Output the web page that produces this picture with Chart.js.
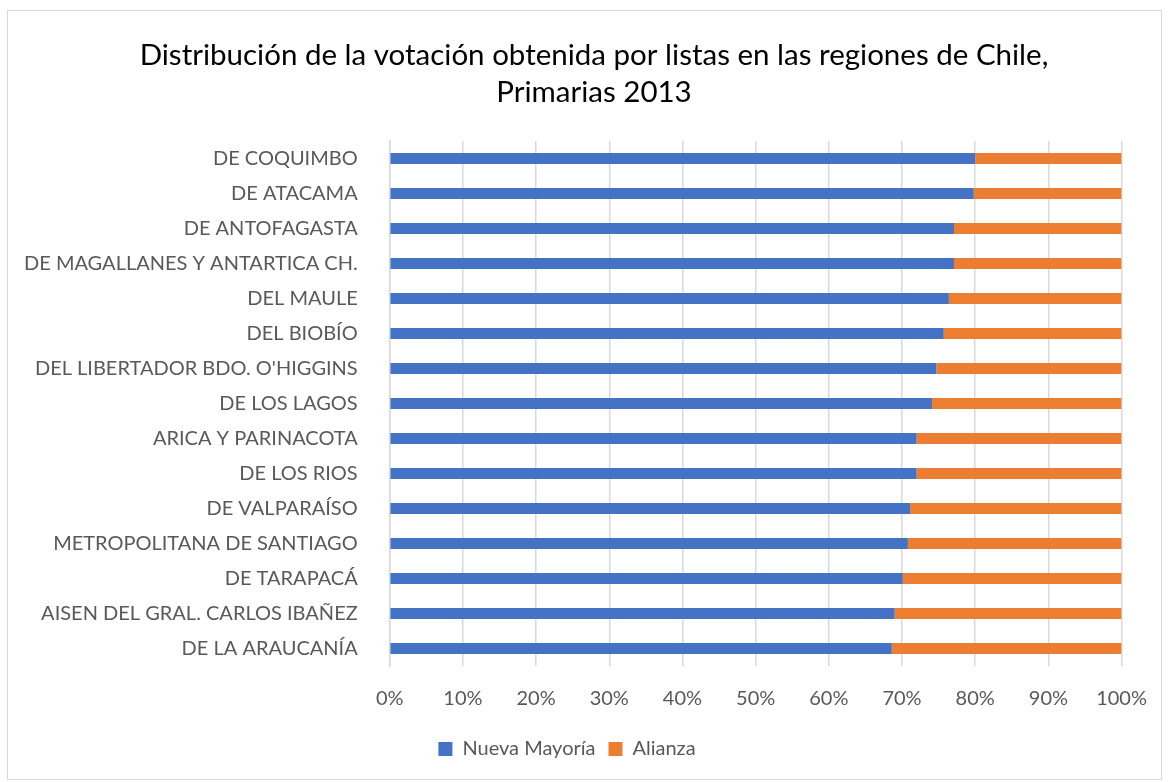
<!DOCTYPE html>
<html>
<head>
<meta charset="utf-8">
<script src="https://cdn.jsdelivr.net/npm/chart.js@4"></script>
<style>
  body { margin: 0; background: #fff; }
  #box { position: absolute; left: 7px; top: 10px; width: 1155px; height: 770px; border: 1px solid #d9d9d9; box-sizing: border-box; }
  #chart { position: absolute; left: 0; top: 0; }
</style>
</head>
<body>
<div id="box"></div>
<canvas id="chart" width="1168" height="782"></canvas>
<script>
// Regions, top to bottom
const regiones = ['DE COQUIMBO', 'DE ATACAMA', 'DE ANTOFAGASTA', 'DE MAGALLANES Y ANTARTICA CH.', 'DEL MAULE',
  'DEL BIOBÍO', "DEL LIBERTADOR BDO. O'HIGGINS", 'DE LOS LAGOS', 'ARICA Y PARINACOTA', 'DE LOS RIOS',
  'DE VALPARAÍSO', 'METROPOLITANA DE SANTIAGO', 'DE TARAPACÁ', 'AISEN DEL GRAL. CARLOS IBAÑEZ', 'DE LA ARAUCANÍA']
// Share of votes, percent
const nuevaMayoria = [80.0, 79.8, 77.1, 77.1, 76.4, 75.7, 74.7, 74.1, 72.0, 72.0, 71.1, 70.8, 70.1, 69.0, 68.6]
const alianza = [20.0, 20.2, 22.9, 22.9, 23.6, 24.3, 25.3, 25.9, 28.0, 28.0, 28.9, 29.2, 29.9, 31.0, 31.4]
const titulo = ['Distribución de la votación obtenida por listas en las regiones de Chile,', 'Primarias 2013']

const fontFamily = 'Lato, "Open Sans", sans-serif'
const grey = '#595959'

// title is centred on the page, not on the plot, so draw it here
const pageTitle = {
  id: 'pageTitle',
  afterDraw(chart) {
    const ctx = chart.ctx
    ctx.save()
    ctx.fillStyle = '#000'
    ctx.font = '29.5px ' + fontFamily
    ctx.textAlign = 'center'
    ctx.textBaseline = 'middle'
    titulo.forEach((line, i) => ctx.fillText(line, 594, 55 + i * 37))
    ctx.restore()
  }
}

const chart = new Chart(document.querySelector('#chart'), {
  type: 'bar',
  data: {
    labels: regiones,
    datasets: [
      { label: 'Nueva Mayoría', data: nuevaMayoria, backgroundColor: '#4472c4', barPercentage: 0.32, categoryPercentage: 1 },
      { label: 'Alianza', data: alianza, backgroundColor: '#ed7d31', barPercentage: 0.32, categoryPercentage: 1 }
    ]
  },
  plugins: [pageTitle],
  options: {
    indexAxis: 'y',
    responsive: false,
    animation: false,
    layout: { padding: { top: 141, left: 0, right: 34, bottom: 13 } },
    scales: {
      x: {
        stacked: true,
        min: 0,
        max: 100,
        ticks: { stepSize: 10, color: grey, font: { family: fontFamily, size: 20 }, padding: 21, callback: v => v + '%' },
        grid: { color: '#d9d9d9', lineWidth: 1.5, drawTicks: false },
        border: { display: false },
        afterFit: scale => { scale.height = 60 }
      },
      y: {
        stacked: true,
        ticks: { color: grey, font: { family: fontFamily, size: 20 }, padding: 24 },
        grid: { display: false },
        border: { color: '#d9d9d9', width: 1.5 }
      }
    },
    plugins: {
      title: { display: false },
      legend: {
        position: 'bottom',
        labels: { color: grey, font: { family: fontFamily, size: 20 }, boxWidth: 14, boxHeight: 14, padding: 13 }
      },
      tooltip: { enabled: false }
    }
  }
})
</script>
</body>
</html>
